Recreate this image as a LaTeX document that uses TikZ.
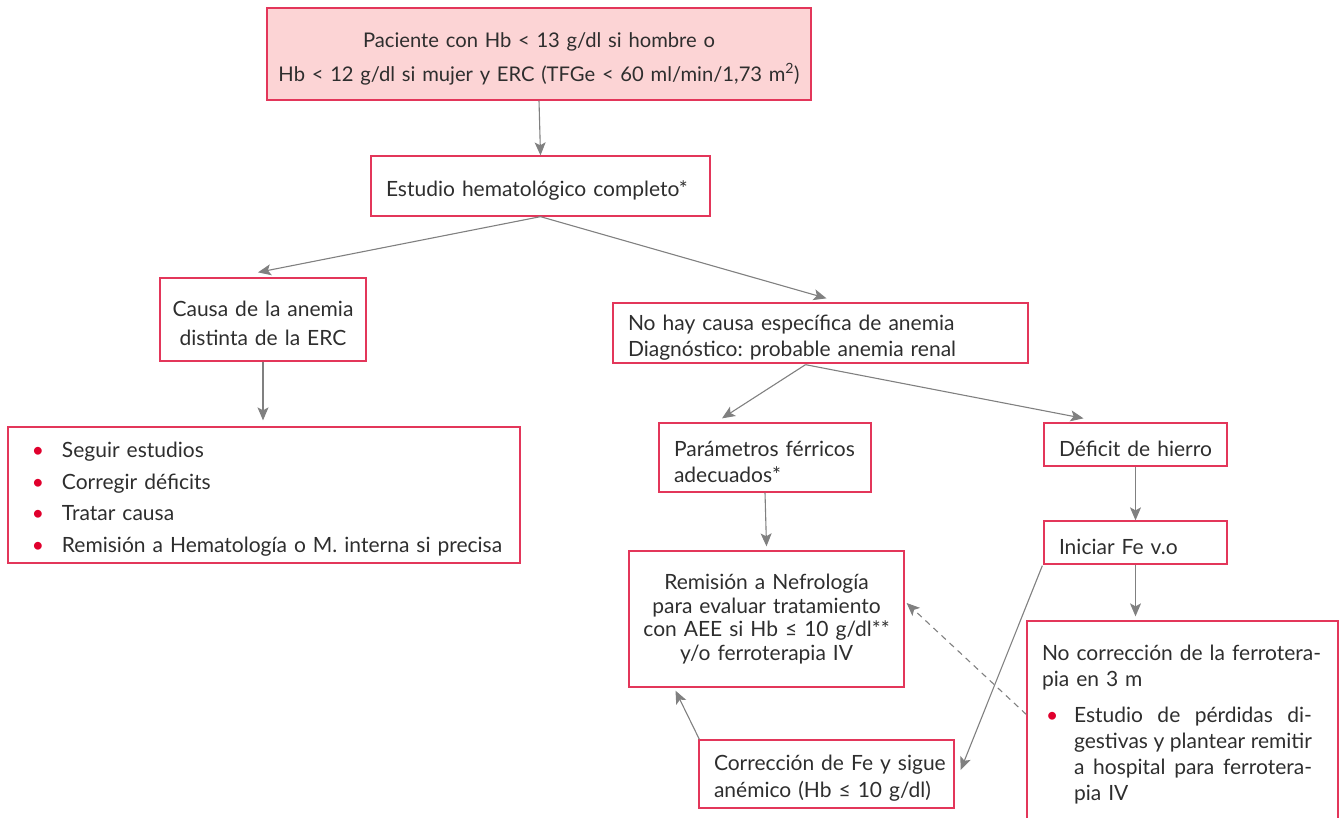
\documentclass[tikz,border=0pt]{standalone}
\usepackage{fontspec}
\setmainfont{Lato}
\usetikzlibrary{arrows.meta,calc}
\definecolor{bord}{HTML}{E3365A}
\definecolor{topfill}{HTML}{FCD4D5}
\definecolor{arrc}{HTML}{808080}
\definecolor{txt}{HTML}{2E2E2E}
\definecolor{bul}{HTML}{E0002D}
\newcommand{\bl}[2]{\makebox[#2][l]{\hspace{#1}\textcolor{bul}{\textbullet}}}
\newcommand{\fsz}[2]{\fontsize{#1}{#2}\selectfont\frenchspacing\spaceskip=4.4pt plus 2pt minus 1pt\relax}
\newcommand{\fs}[1]{\fsz{21}{#1}}
\newcommand{\tstrut}{\rule{0pt}{24pt}}
\begin{document}
\begin{tikzpicture}[x=1pt,y=-1pt,
 box/.style={draw=bord, line width=1.3pt, inner xsep=15pt, inner ysep=0pt, text=txt},
 cbox/.style={box, inner xsep=4pt},
 arr/.style={draw=arrc, line width=1.1pt, -{Stealth[length=13pt,width=11pt,inset=3pt]}},
 darr/.style={arr, dash pattern=on 6pt off 5pt},
]
\useasboundingbox (0,0) rectangle (1340,817);

\node[cbox, fill=topfill, minimum width=544pt, minimum height=92pt, text width=536pt, align=center, font=\fsz{20.2}{34}] (top) at (539,54)
 {\tstrut\mbox{Paciente con Hb < 13 g/dl si hombre o}\\\mbox{Hb < 12 g/dl si mujer y ERC (TFGe < 60 ml/min/1,73 m\textsuperscript{2})}};

\node[box, minimum width=339pt, minimum height=60pt, text width=309pt, align=left, font=\fs{26}] (b2) at (540.5,186)
 {\tstrut\mbox{Estudio hematológico completo*}};

\node[cbox, minimum width=206pt, minimum height=83pt, text width=198pt, align=center, font=\fs{29}] (b3) at (263,319.5)
 {\tstrut\mbox{Causa de la anemia}\\\mbox{distinta de la ERC}};

\node[box, minimum width=415pt, minimum height=60pt, text width=385pt, align=left, font=\fs{26}] (b4) at (820.5,333)
 {\tstrut\mbox{No hay causa específica de anemia}\\\mbox{Diagnóstico: probable anemia renal}};

\node[box, minimum width=512pt, minimum height=136pt, text width=482pt, align=left, font=\fs{31.5}] (b5) at (264,495)
 {\tstrut\bl{9pt}{39pt}Seguir estudios\\\bl{9pt}{39pt}Corregir déficits\\\bl{9pt}{39pt}Tratar causa\\\bl{9pt}{39pt}\mbox{Remisión a Hematología o M. interna si precisa}};

\node[box, minimum width=212pt, minimum height=69pt, text width=182pt, align=left, font=\fs{26}] (b6) at (765,457.5)
 {\tstrut\mbox{Parámetros férricos}\\adecuados*};

\node[box, minimum width=183pt, minimum height=43pt, text width=153pt, align=left, font=\fs{26}] (b7) at (1135.5,444.5)
 {\tstrut\mbox{Déficit de hierro}};

\node[box, minimum width=183pt, minimum height=43pt, text width=153pt, align=left, font=\fs{26}] (b8) at (1135.5,542.5)
 {\tstrut\mbox{Iniciar Fe v.o}};

\node[cbox, minimum width=275pt, minimum height=136pt, text width=267pt, align=center, font=\fs{23.5}] (b9) at (766.5,619)
 {\mbox{Remisión a Nefrología}\\\mbox{para evaluar tratamiento}\\\mbox{con AEE si Hb ≤ 10 g/dl**}\\\mbox{y/o ferroterapia IV}};

\node[box, minimum width=311pt, minimum height=199pt, text width=281pt, align=left, font=\fs{26}] (b10) at (1182.5,720.5)
 {\tstrut\mbox{No corrección de la ferrotera-}\\pia en 3 m\\[10pt]
  \bl{4pt}{32pt}\hbox to 238pt{Estudio\hfill de\hfill pérdidas\hfill di-}\\
  \hspace*{32pt}\hbox to 238pt{gestivas\hfill y\hfill plantear\hfill remitir}\\
  \hspace*{32pt}\hbox to 238pt{a\hfill hospital\hfill para\hfill ferrotera-}\\
  \hspace*{32pt}pia IV};

\node[box, minimum width=255pt, minimum height=68pt, text width=225pt, align=left, font=\fs{27}] (b11) at (826.5,774)
 {\tstrut\mbox{Corrección de Fe y sigue}\\\mbox{anémico (Hb ≤ 10 g/dl)}};

% connectors
\draw[arr] (top.south) -- (b2.north);
\draw[arr] (b2.south) -- ($(b3.north)+(-5,-5)$);
\draw[arr] (b2.south) -- ($(b4.north)+(6,-4)$);
\draw[arr] (b3.south) -- ($(b5.north)+(-1,-6)$);
\draw[arr] ($(b4.south)+(-15,1)$) -- ($(b6.north)+(-43,-4)$);
\draw[arr] ($(b4.south)+(-15,1)$) -- ($(b7.north)+(-52,-4)$);
\draw[arr] (b6.south) -- ($(b9.north)+(0,-4)$);
\draw[arr] (b7.south) -- (b8.north);
\draw[arr] (b8.south) -- ($(b8.south |- b10.north)+(0,-4)$);
\draw[arr] ($(b8.south west)+(-1,1)$) -- ($(b11.east)+(6,-4)$);
\draw[darr] ($(b10.west)+(0,-6)$) -- ($(b9.east)+(2,-16)$);
\draw[arr] ($(b11.north west)+(1,0)$) -- ($(b9.south)+(-91,3)$);
\end{tikzpicture}
\end{document}
